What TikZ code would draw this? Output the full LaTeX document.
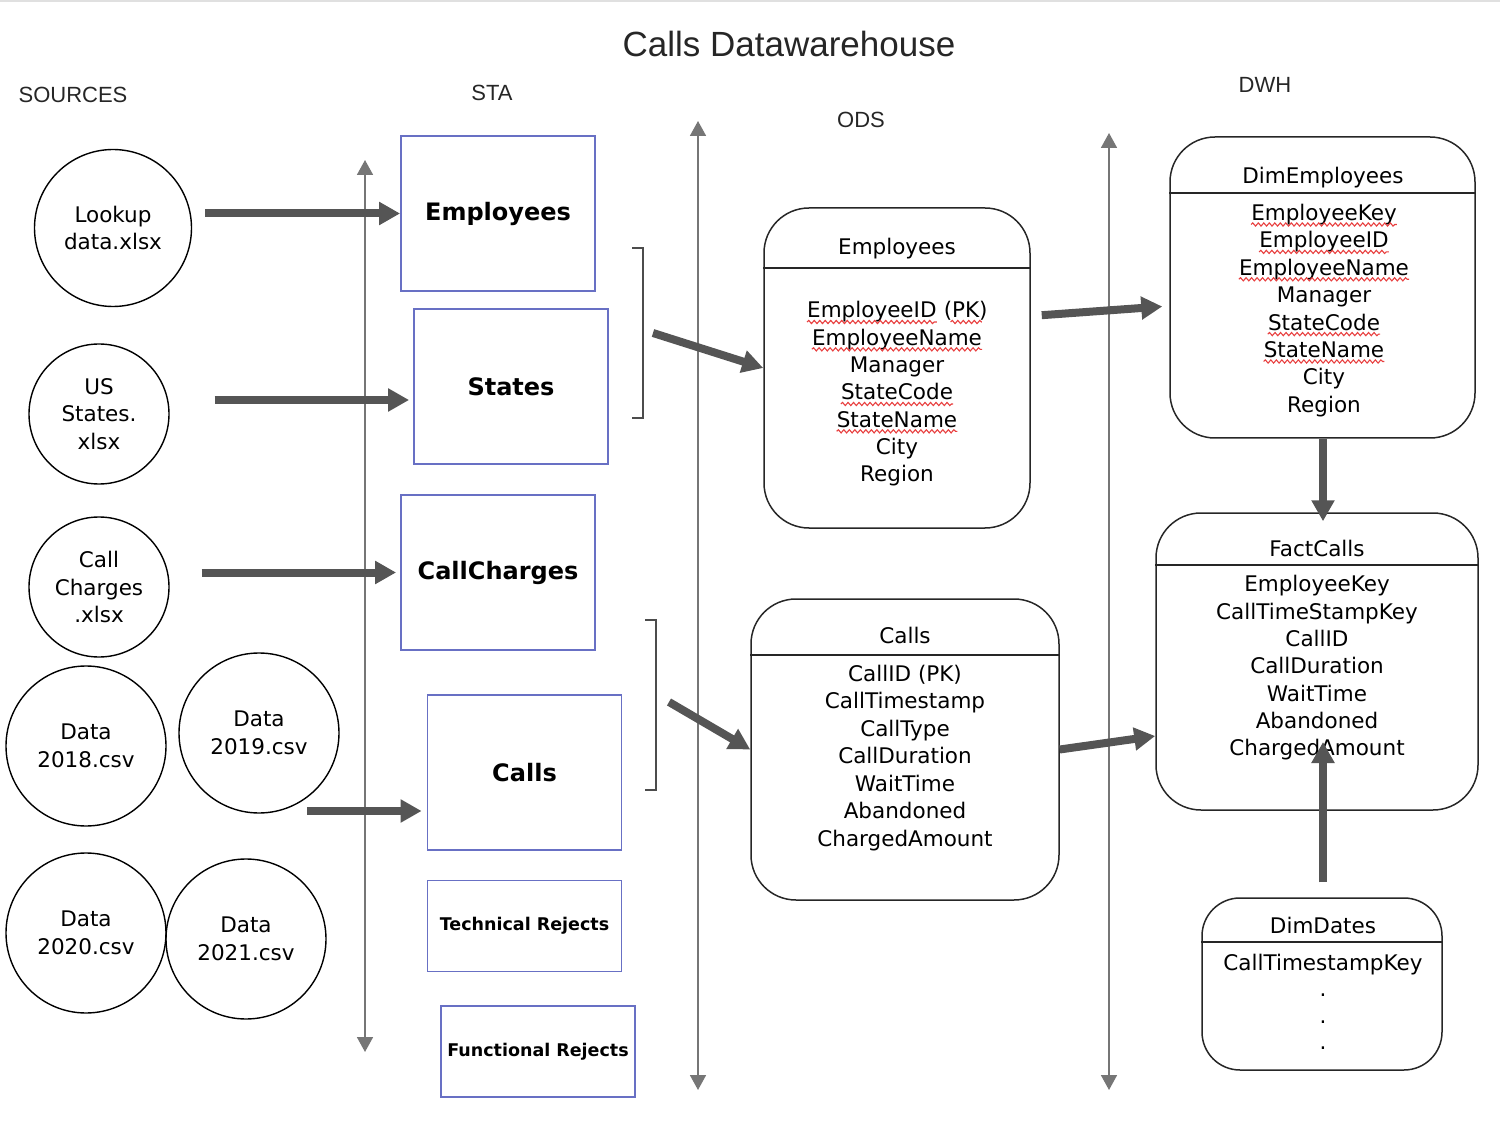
\documentclass[tikz,border=0pt]{standalone}
\usepackage{fontspec}
\setmainfont{DejaVu Sans}
\newfontfamily\headfont{Liberation Sans}
\usepackage{tikz}
\usetikzlibrary{arrows.meta, positioning, decorations.pathmorphing}

\definecolor{fatgray}{RGB}{85,85,85}
\definecolor{axisgray}{RGB}{118,118,118}
\definecolor{stablue}{RGB}{104,112,196}
\definecolor{spellred}{RGB}{232,64,64}

\newcommand\bodyfont{\fontsize{21.5}{27.4}\selectfont}

\begin{document}
\begin{tikzpicture}[x=1pt, y=-1pt,
		src/.style={draw, circle, line width=1.4pt, inner sep=0pt, align=center, font=\bodyfont},
		sta/.style={draw=stablue, line width=1.8pt, minimum width=194pt, minimum height=155pt, inner sep=0pt,
			font=\fontsize{24}{28}\selectfont\bfseries},
		rej/.style={sta, minimum height=91pt, font=\fontsize{17.5}{21}\selectfont\bfseries},
		tbl/.style={draw=black!85, line width=1.5pt, rounded corners=45pt, inner sep=0pt},
		sep/.style={draw=black!85, line width=1.5pt},
		row/.style={inner sep=0pt, anchor=base, font=\bodyfont},
		head/.style={inner sep=0pt, text=black!85, font=\headfont\fontsize{22}{26}\selectfont},
		squig/.style={draw=spellred, line width=1.1pt, decorate,
			decoration={snake, amplitude=1.6pt, segment length=5.5pt}},
		fat/.style={draw=fatgray, line width=8pt, -{Triangle[length=21pt, width=22pt]}},
		axis/.style={draw=axisgray, line width=1.8pt, {Triangle[length=15pt, width=16pt]}-{Triangle[length=15pt, width=16pt]}},
		brace/.style={draw=black!70, line width=1.5pt}]
	\useasboundingbox (0,0) rectangle (1500,1147);
	\draw[black!12, line width=2pt] (0,1) -- (1500,1);

	% Headings
	\node[head, font=\headfont\fontsize{35}{40}\selectfont] (title) at (789,44) {Calls Datawarehouse};
	\node[head] (hSrc) at (73,95) {SOURCES};
	\node[head] (hSta) at (492,93) {STA};
	\node[head] (hOds) at (861,120) {ODS};
	\node[head] (hDwh) at (1265,85) {DWH};

	% Sources
	\node[src, minimum size=157pt] (lookup) at (113,228) {Lookup\\data.xlsx};
	\node[src, minimum size=140pt] (usStates) at (99,414) {US\\States.\\xlsx};
	\node[src, minimum size=140pt] (charges) at (99,587) {Call\\Charges\\.xlsx};
	\node[src, minimum size=160pt] (csv18) at (86,746) {Data\\2018.csv};
	\node[src, minimum size=160pt] (csv19) at (259,733) {Data\\2019.csv};
	\node[src, minimum size=160pt] (csv20) at (86,933) {Data\\2020.csv};
	\node[src, minimum size=160pt] (csv21) at (246,939) {Data\\2021.csv};

	% Staging
	\node[sta] (staEmp) at (498,213.5) {Employees};
	\node[sta] (staStates) at (511,386.5) {States};
	\node[sta] (staCharges) at (498,572.5) {CallCharges};
	\node[sta] (staCalls) at (524.5,772.5) {Calls};
	\node[rej] (techRej) at (524.5,926) {Technical Rejects};
	\node[rej] (funcRej) at (538,1051.5) {Functional Rejects};

	% Layer borders
	\coordinate (ax1t) at (365,160);  \coordinate (ax1b) at (365,1052);
	\coordinate (ax2t) at (698,121);  \coordinate (ax2b) at (698,1090);
	\coordinate (ax3t) at (1109,133); \coordinate (ax3b) at (1109,1090);
	\draw[axis] (ax1t) -- (ax1b);
	\draw[axis] (ax2t) -- (ax2b);
	\draw[axis] (ax3t) -- (ax3b);

	% ODS Employees
	\node[tbl, minimum width=266pt, minimum height=320pt] (odsEmp) at (897,368) {};
	\draw[sep] (odsEmp.west |- 0,268) -- (odsEmp.east |- 0,268);
	\node[row] (odsEmpHead) at (897,255) {Employees};
	\node[row, anchor=base west] (odsEmpId) at (807,318) {EmployeeID};
	\node[row, anchor=base west] (odsEmpPk) at ([xshift=6.8pt]odsEmpId.base east) {(PK)};
	\draw[squig] ([yshift=-4pt]odsEmpId.base west) -- ([yshift=-4pt]odsEmpId.base east);
	\draw[squig] ([yshift=-4pt, xshift=7pt]odsEmpPk.base west) -- ([yshift=-4pt, xshift=-6pt]odsEmpPk.base east);
	\foreach \t/\u [count=\i] in {EmployeeName/1, Manager/0, StateCode/1, StateName/1, City/0, Region/0}{
		\node[row] (odsEmp-\i) at (897,{318+27.33*\i}) {\t};
		\ifnum\u=1 \draw[squig] ([yshift=-4pt]odsEmp-\i.base west) -- ([yshift=-4pt]odsEmp-\i.base east); \fi
	}

	% ODS Calls
	\node[tbl, minimum width=308pt, minimum height=301pt] (odsCalls) at (905,749.5) {};
	\draw[sep] (odsCalls.west |- 0,655) -- (odsCalls.east |- 0,655);
	\node[row] (odsCallsHead) at (905,643.5) {Calls};
	\foreach \t [count=\i from 0] in {CallID (PK), CallTimestamp, CallType, CallDuration, WaitTime, Abandoned, ChargedAmount}
		\node[row] (odsCalls-\i) at (905,{681+27.5*\i}) {\t};

	% DimEmployees
	\node[tbl, minimum width=305pt, minimum height=301pt] (dimEmp) at (1322.5,287.5) {};
	\draw[sep] (dimEmp.west |- 0,193) -- (dimEmp.east |- 0,193);
	\node[row] (dimEmpHead) at (1323,183.5) {DimEmployees};
	\foreach \t/\u [count=\i from 0] in {EmployeeKey/1, EmployeeID/1, EmployeeName/1, Manager/0, StateCode/1, StateName/1, City/0, Region/0}{
		\node[row] (dimEmp-\i) at (1324,{220.5+27.4*\i}) {\t};
		\ifnum\u=1 \draw[squig] ([yshift=-4pt]dimEmp-\i.base west) -- ([yshift=-4pt]dimEmp-\i.base east); \fi
	}

	% FactCalls
	\node[tbl, minimum width=322pt, minimum height=297pt] (factCalls) at (1317,661.5) {};
	\draw[sep] (factCalls.west |- 0,565) -- (factCalls.east |- 0,565);
	\node[row] (factHead) at (1317,556) {FactCalls};
	\foreach \t [count=\i from 0] in {EmployeeKey, CallTimeStampKey, CallID, CallDuration, WaitTime, Abandoned, ChargedAmount}
		\node[row] (fact-\i) at (1317,{591.7+27.38*\i}) {\t};

	% DimDates
	\node[tbl, rounded corners=38pt, minimum width=240pt, minimum height=172pt] (dimDates) at (1322,984) {};
	\draw[sep] (dimDates.west |- 0,942) -- (dimDates.east |- 0,942);
	\node[row] (datesHead) at (1323,933.5) {DimDates};
	\node[row] (dates-0) at (1323,970) {CallTimestampKey};
	\foreach \i in {1,2,3}
		\node[row] (dates-\i) at (1323,{970+26.5*\i}) {.};

	% Brackets
	\draw[brace] (632,248) -- (643,248) -- (643,418) -- (632,418);
	\draw[brace] (645,620) -- (656,620) -- (656,790) -- (645,790);
	\coordinate (brEmp) at (653,333);
	\coordinate (brCalls) at (669,702);
	\coordinate (csvOut) at (307,811);
	\coordinate (factIn) at (1323,742);

	% Edges
	\draw[fat, shorten <=13pt] (lookup.east |- staEmp.west) -- (staEmp.west);
	\draw[fat, shorten <=45pt, shorten >=4pt] (usStates.east |- 0,400) -- (staStates.west |- 0,400);
	\draw[fat, shorten <=32pt, shorten >=4pt] (charges.east |- staCharges.west) -- (staCharges.west);
	\draw[fat, shorten >=5pt] (csvOut) -- (staCalls.west |- csvOut);
	\draw[fat] (brEmp) -- (odsEmp.west);
	\draw[fat] (brCalls) -- (odsCalls.west);
	\draw[fat, shorten <=11pt, shorten >=7pt] (odsEmp.east |- 0,316) -- (dimEmp.west |- 0,306);
	\draw[fat] (odsCalls.east) -- (factCalls.west |- 0,736);
	\draw[fat, shorten >=-9pt] (dimEmp.south -| factIn) -- (factCalls.north -| factIn);
	\draw[fat, shorten <=15pt] (dimDates.north -| factIn) -- (factIn);
\end{tikzpicture}
\end{document}
